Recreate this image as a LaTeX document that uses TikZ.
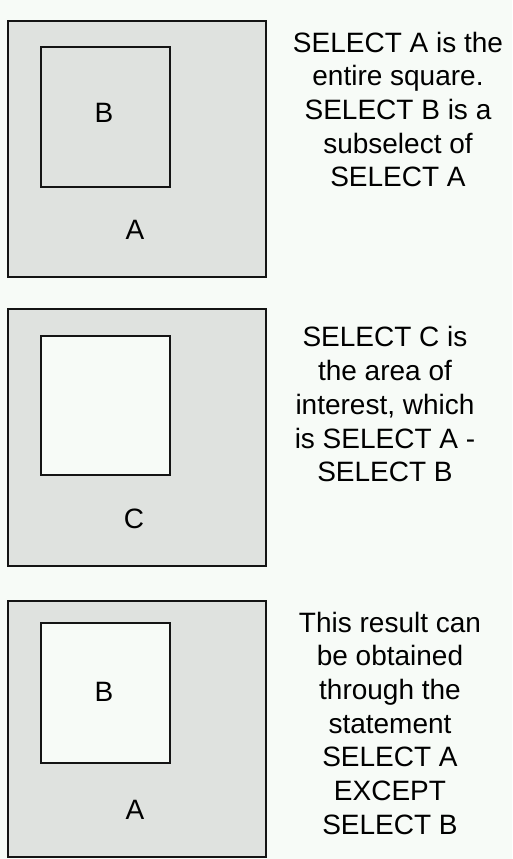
\documentclass[tikz,border=0pt]{standalone}
\usepackage{fontspec}
\setmainfont{Liberation Sans}
\definecolor{bg}{HTML}{F7FBF7}
\definecolor{panel}{HTML}{DFE2DF}
\definecolor{edge}{HTML}{141414}
\begin{document}
\begin{tikzpicture}[x=1pt,y=-1pt,
  outerbox/.style={draw=edge,fill=panel,line width=2.5pt},
  innergray/.style={draw=edge,fill=panel,line width=2.5pt},
  innerwhite/.style={draw=edge,fill=bg,line width=2.5pt},
  lbl/.style={inner sep=0pt,font=\fontsize{28}{33.7}\selectfont,text=black},
  desc/.style={inner sep=0pt,anchor=north,align=center,font=\fontsize{28}{33.7}\selectfont,text=black}]
\fill[bg] (0,0) rectangle (512,859);
\useasboundingbox (0,0) rectangle (512,859);
% panel 1
\draw[outerbox] (8,21) rectangle (266,277);
\draw[innergray] (41,47) rectangle (170,187);
\node[lbl] (b1) at (104,113) {B};
\node[lbl] (a1) at (135,230) {A};
\node[desc] (t1) at (398,31.6) {SELECT A is the\\entire square.\\SELECT B is a\\subselect of\\SELECT A};
% panel 2
\draw[outerbox] (8,309) rectangle (266,566);
\draw[innerwhite] (41,336) rectangle (170,475);
\node[lbl] (c2) at (134,519) {C};
\node[desc] (t2) at (385,326.5) {SELECT C is\\the area of\\interest, which\\is SELECT A -\\SELECT B};
% panel 3
\draw[outerbox] (8,601) rectangle (266,857);
\draw[innerwhite] (41,623) rectangle (170,763);
\node[lbl] (b3) at (104,692) {B};
\node[lbl] (a3) at (135,810) {A};
\node[desc] (t3) at (390,611.6) {This result can\\be obtained\\through the\\statement\\SELECT A\\EXCEPT\\SELECT B};
\end{tikzpicture}
\end{document}
